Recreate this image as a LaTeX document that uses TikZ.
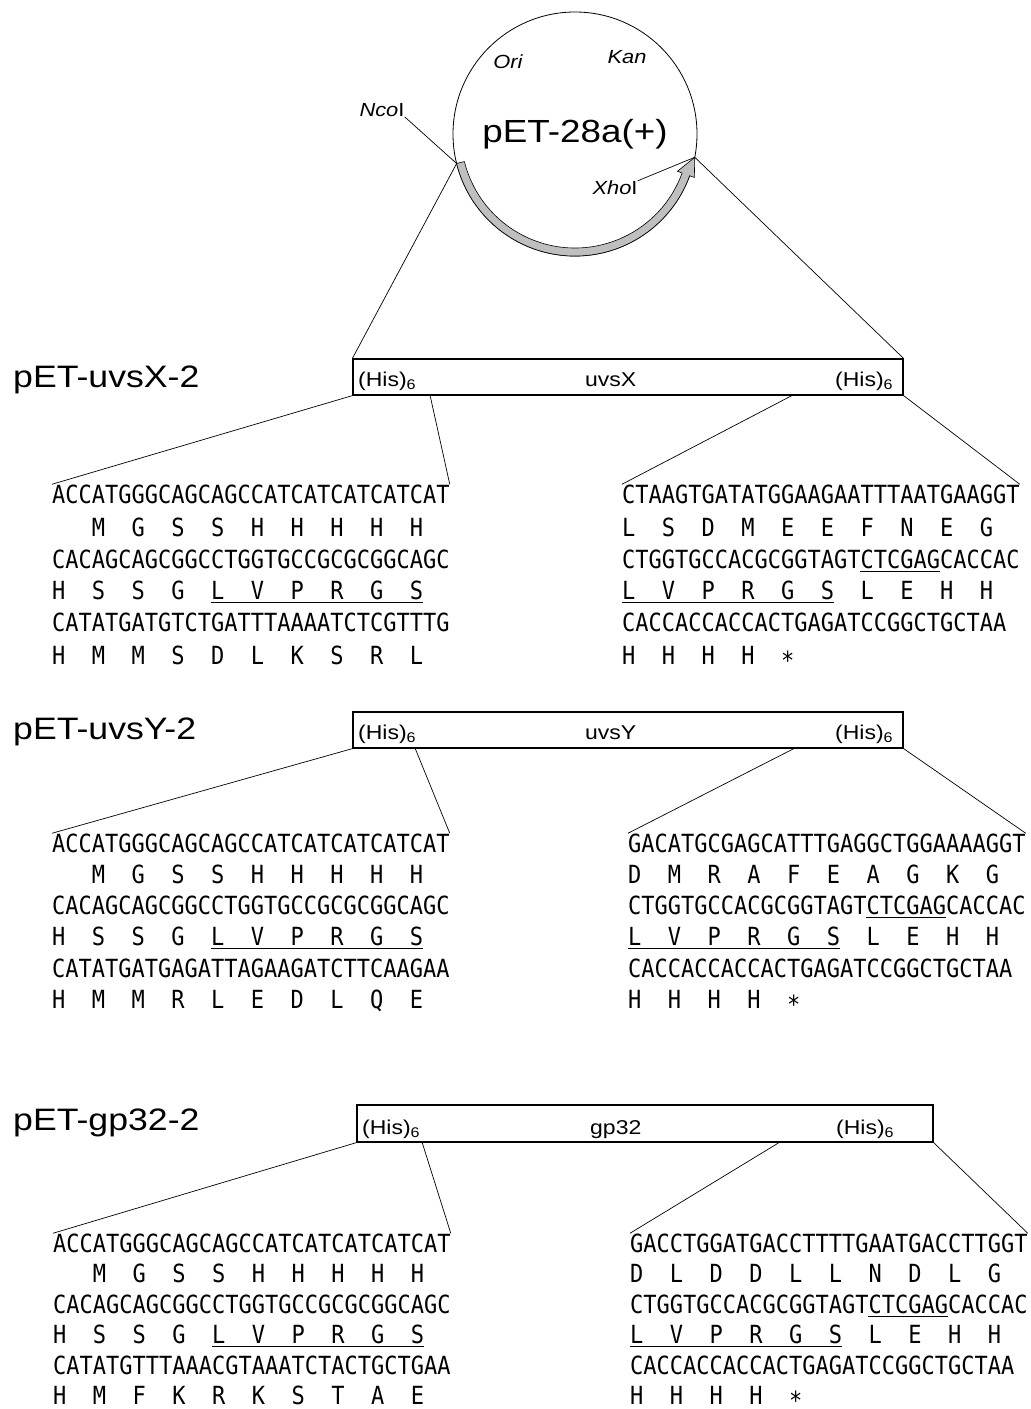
\documentclass[tikz,border=0pt]{standalone}
\usepackage{fontspec}
\setmainfont{Liberation Sans}[FakeStretch=1.15]
\newfontfamily\seqfont{DejaVu Sans Mono}[FakeStretch=0.88]
\usetikzlibrary{calc}

\newlength\chw
% one amino acid under the first base of each codon
\newcommand\aarow[1]{\foreach \x in {#1}{\makebox[3\chw][l]{\x}}}
\newcommand\his{(His)\textsubscript{6}}
\newcommand\site[1]{#1\textup{I}}

\tikzset{
  seq/.style={anchor=base west, inner sep=0pt, font=\seqfont\fontsize{25}{25}\selectfont},
  gene/.style={draw, line width=1.2pt, inner sep=0pt, minimum height=36pt},
  con/.style={line width=0.7pt},
  uline/.style={line width=0.9pt},
  title/.style={anchor=base west, inner sep=0pt, font=\fontsize{31}{31}\selectfont},
  tag/.style={anchor=base west, inner sep=0pt, font=\fontsize{20}{20}\selectfont},
  vlabel/.style={inner sep=0pt, font=\fontsize{19}{19}\selectfont\itshape},
  band/.style={fill=gray!50, draw=black, line width=0.6pt},
}

\begin{document}
\settowidth\chw{\seqfont\fontsize{25}{25}\selectfont A}%
\begin{tikzpicture}[x=1pt, y=1pt]
  \useasboundingbox (0,0) rectangle (1031,-1409);

  % vector
  \node[circle, draw, line width=0.8pt, minimum size=244pt, inner sep=0pt,
        font=\fontsize{32}{32}\selectfont] (plasmid) at (575,-134) {pET-28a(+)};
  \begin{scope}[shift={(plasmid.center)}]
    \filldraw[band] (194:122) arc[start angle=194, end angle=340, radius=122]
      -- (340:127) -- (349:122) -- (340:109) -- (340:114)
      arc[start angle=340, end angle=194, radius=114] -- cycle;
    \coordinate (nco) at (194:122);
    \coordinate (xho) at (349:122);
  \end{scope}
  \node[vlabel] (ori) at (508,-62) {Ori};
  \node[vlabel] (kan) at (627,-57) {Kan};
  \node[vlabel] (ncolab) at (382,-110) {\site{Nco}};
  \node[vlabel] (xholab) at (615,-188) {\site{Xho}};
  \draw[con] (ncolab.south east) -- (nco);
  \draw[con] (xholab.north east) -- (xho);

  % pET-uvsX-2
  \node[title] (xtitle) at (13,-387) {pET-uvsX-2};
  \node[gene, minimum width=550pt] (xbox) at (628,-377) {};
  \node[tag] (xhis1) at (358,-386) {\his};
  \node[tag] (xname) at (585,-386) {uvsX};
  \node[tag] (xhis2) at (835,-386) {\his};
  \draw[con] (nco) -- (xbox.north west);
  \draw[con] (xho) -- (xbox.north east);

  \node[seq] (xl1) at (52,-503) {ACCATGGGCAGCAGCCATCATCATCATCAT};
  \node[seq] (xl2) at (52,-536) {\aarow{{},M,G,S,S,H,H,H,H,H}};
  \node[seq] (xl3) at (52,-568) {CACAGCAGCGGCCTGGTGCCGCGCGGCAGC};
  \node[seq] (xl4) at (52,-599) {\aarow{H,S,S,G,L,V,P,R,G,S}};
  \node[seq] (xl5) at (52,-631) {CATATGATGTCTGATTTAAAATCTCGTTTG};
  \node[seq] (xl6) at (52,-664) {\aarow{H,M,M,S,D,L,K,S,R,L}};
  \draw[uline] ($(xl4.base west)+(12*\chw,-3)$) -- +(16*\chw,0);

  \node[seq] (xr1) at (622,-503) {CTAAGTGATATGGAAGAATTTAATGAAGGT};
  \node[seq] (xr2) at (622,-536) {\aarow{L,S,D,M,E,E,F,N,E,G}};
  \node[seq] (xr3) at (622,-568) {CTGGTGCCACGCGGTAGTCTCGAGCACCAC};
  \node[seq] (xr4) at (622,-599) {\aarow{L,V,P,R,G,S,L,E,H,H}};
  \node[seq] (xr5) at (622,-631) {CACCACCACCACTGAGATCCGGCTGCTAA};
  \node[seq] (xr6) at (622,-664) {\aarow{H,H,H,H,∗}};
  \draw[uline] ($(xr3.base west)+(18*\chw,-3)$) -- +(6*\chw,0);
  \draw[uline] ($(xr4.base west)+(0,-3)$) -- +(16*\chw,0);

  \coordinate (xa) at (430,-395);
  \coordinate (xb) at (793,-395);
  \draw[con] (xbox.south west) -- (xl1.north west);
  \draw[con] (xa) -- (xl1.north east);
  \draw[con] (xb) -- (xr1.north west);
  \draw[con] (xbox.south east) -- (xr1.north east);

  % pET-uvsY-2
  \node[title] (ytitle) at (13,-739) {pET-uvsY-2};
  \node[gene, minimum width=550pt] (ybox) at (628,-730) {};
  \node[tag] (yhis1) at (358,-739) {\his};
  \node[tag] (yname) at (585,-739) {uvsY};
  \node[tag] (yhis2) at (835,-739) {\his};

  \node[seq] (yl1) at (52,-852) {ACCATGGGCAGCAGCCATCATCATCATCAT};
  \node[seq] (yl2) at (52,-883) {\aarow{{},M,G,S,S,H,H,H,H,H}};
  \node[seq] (yl3) at (52,-914) {CACAGCAGCGGCCTGGTGCCGCGCGGCAGC};
  \node[seq] (yl4) at (52,-945) {\aarow{H,S,S,G,L,V,P,R,G,S}};
  \node[seq] (yl5) at (52,-977) {CATATGATGAGATTAGAAGATCTTCAAGAA};
  \node[seq] (yl6) at (52,-1008) {\aarow{H,M,M,R,L,E,D,L,Q,E}};
  \draw[uline] ($(yl4.base west)+(12*\chw,-3)$) -- +(16*\chw,0);

  \node[seq] (yr1) at (628,-852) {GACATGCGAGCATTTGAGGCTGGAAAAGGT};
  \node[seq] (yr2) at (628,-883) {\aarow{D,M,R,A,F,E,A,G,K,G}};
  \node[seq] (yr3) at (628,-914) {CTGGTGCCACGCGGTAGTCTCGAGCACCAC};
  \node[seq] (yr4) at (628,-945) {\aarow{L,V,P,R,G,S,L,E,H,H}};
  \node[seq] (yr5) at (628,-977) {CACCACCACCACTGAGATCCGGCTGCTAA};
  \node[seq] (yr6) at (628,-1008) {\aarow{H,H,H,H,∗}};
  \draw[uline] ($(yr3.base west)+(18*\chw,-3)$) -- +(6*\chw,0);
  \draw[uline] ($(yr4.base west)+(0,-3)$) -- +(16*\chw,0);

  \coordinate (ya) at (415,-748);
  \coordinate (yb) at (795,-748);
  \draw[con] (ybox.south west) -- (yl1.north west);
  \draw[con] (ya) -- (yl1.north east);
  \draw[con] (yb) -- (yr1.north west);
  \draw[con] (ybox.south east) -- (yr1.north east);

  % pET-gp32-2
  \node[title] (gtitle) at (13,-1130) {pET-gp32-2};
  \node[gene, minimum width=576pt, minimum height=37pt] (gbox) at (645,-1123.5) {};
  \node[tag] (ghis1) at (362,-1134) {\his};
  \node[tag] (gname) at (590,-1134) {gp32};
  \node[tag] (ghis2) at (836,-1134) {\his};

  \node[seq] (gl1) at (53,-1252) {ACCATGGGCAGCAGCCATCATCATCATCAT};
  \node[seq] (gl2) at (53,-1282) {\aarow{{},M,G,S,S,H,H,H,H,H}};
  \node[seq] (gl3) at (53,-1313) {CACAGCAGCGGCCTGGTGCCGCGCGGCAGC};
  \node[seq] (gl4) at (53,-1343) {\aarow{H,S,S,G,L,V,P,R,G,S}};
  \node[seq] (gl5) at (53,-1374) {CATATGTTTAAACGTAAATCTACTGCTGAA};
  \node[seq] (gl6) at (53,-1404) {\aarow{H,M,F,K,R,K,S,T,A,E}};
  \draw[uline] ($(gl4.base west)+(12*\chw,-3)$) -- +(16*\chw,0);

  \node[seq] (gr1) at (630,-1252) {GACCTGGATGACCTTTTGAATGACCTTGGT};
  \node[seq] (gr2) at (630,-1282) {\aarow{D,L,D,D,L,L,N,D,L,G}};
  \node[seq] (gr3) at (630,-1313) {CTGGTGCCACGCGGTAGTCTCGAGCACCAC};
  \node[seq] (gr4) at (630,-1343) {\aarow{L,V,P,R,G,S,L,E,H,H}};
  \node[seq] (gr5) at (630,-1374) {CACCACCACCACTGAGATCCGGCTGCTAA};
  \node[seq] (gr6) at (630,-1404) {\aarow{H,H,H,H,∗}};
  \draw[uline] ($(gr3.base west)+(18*\chw,-3)$) -- +(6*\chw,0);
  \draw[uline] ($(gr4.base west)+(0,-3)$) -- +(16*\chw,0);

  \coordinate (ga) at (422,-1142);
  \coordinate (gb) at (780,-1142);
  \draw[con] (gbox.south west) -- (gl1.north west);
  \draw[con] (ga) -- (gl1.north east);
  \draw[con] (gb) -- (gr1.north west);
  \draw[con] (gbox.south east) -- (gr1.north east);
\end{tikzpicture}
\end{document}
